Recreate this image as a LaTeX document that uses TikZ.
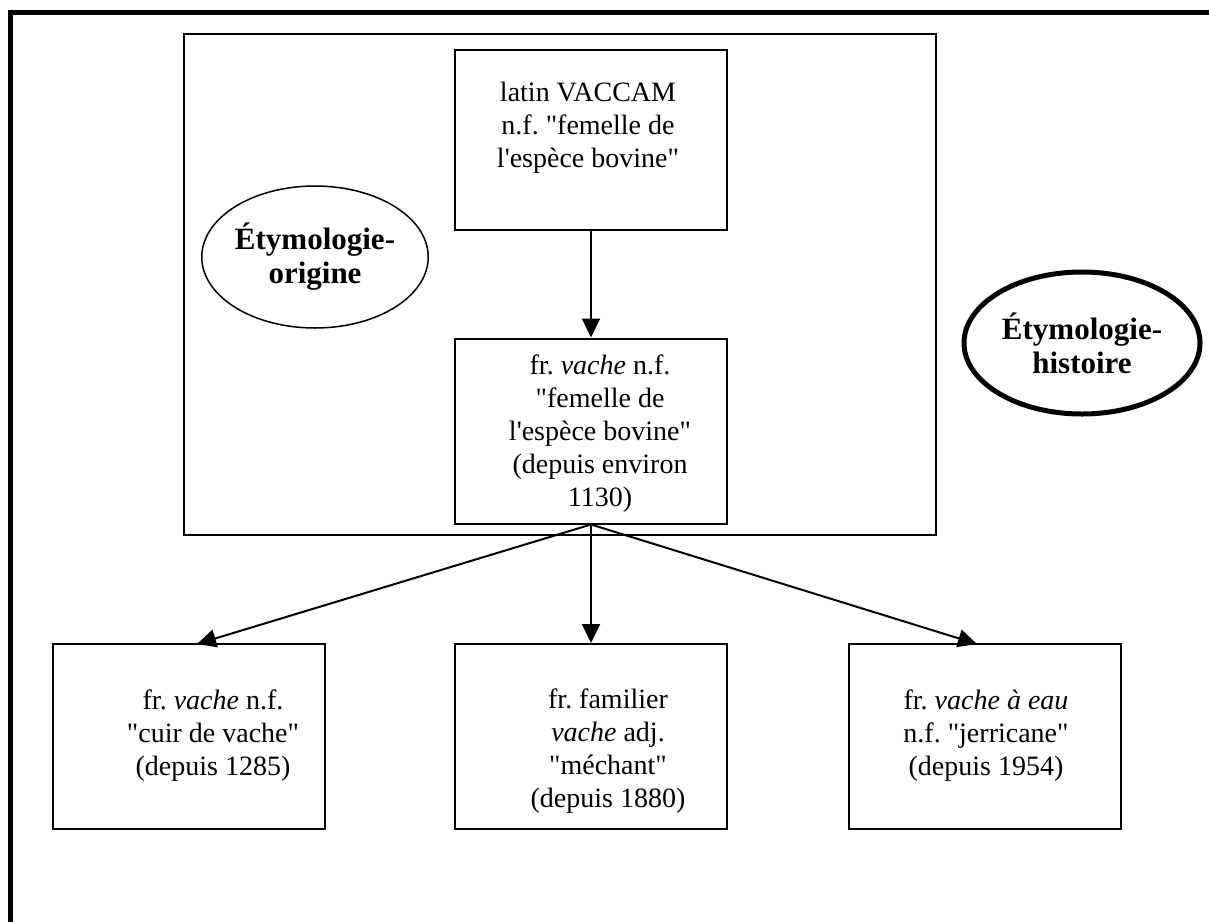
\documentclass[tikz,border=0pt]{standalone}
\usepackage{fontspec}
\setmainfont{Liberation Serif}
\usetikzlibrary{arrows.meta,shapes.geometric,positioning}
\frenchspacing

\newcommand{\boxfont}{\fontsize{28}{33}\selectfont}
\newcommand{\bullefont}{\fontsize{31}{34}\selectfont\bfseries}
\newcommand{\qq}{\textquotedbl}
\newcommand{\ap}{\textquotesingle}

\begin{document}
\begin{tikzpicture}[x=1pt, y=-1pt,
    frame/.style={line width=5pt},
    zone/.style={draw, line width=2pt},
    etape/.style={draw, line width=2pt, minimum width=272pt, minimum height=185pt},
    texte/.style={align=center, inner sep=0pt, font=\boxfont},
    bulle/.style={ellipse, draw, align=center, inner sep=0pt, font=\bullefont, minimum width=220pt, minimum height=142pt},
    arr/.style={-{Triangle[length=19pt, width=18pt]}, line width=2pt}
]
\useasboundingbox (0,0) rectangle (1209,921);

% cadre de page et zone d'origine
\draw[frame] (10,990) -- (10,12.5) -- (1280,12.5);
\draw[zone] (184,34) rectangle (936,535);

% mot latin et premier sens
\node[etape, minimum height=180pt] (latin) at (591,140) {};
\node[texte] (latintxt) at (588,128) {latin VACCAM\\n.f. \qq femelle de\\l\ap espèce bovine\qq};
\node[etape] (vache) at (591,431) {};
\node[texte] (vachetxt) at (600,434) {fr. \textit{vache} n.f.\\\qq femelle de\\l\ap espèce bovine\qq\\(depuis environ\\1130)};

% ellipses
\node[bulle, line width=1.5pt] (origine) at (315,257) {Étymologie-\\origine};
\node[bulle, line width=5pt, minimum width=236pt] (histoire) at (1082,343) {Étymologie-\\histoire};

% sens derives
\node[etape] (cuir) at (188.5,736.5) {};
\node[texte] (cuirtxt) at (213,736) {fr. \textit{vache} n.f.\\\qq cuir de vache\qq\\(depuis 1285)};
\node[etape] (mechant) at (591,736.5) {};
\node[texte] (mechanttxt) at (608,751) {fr. familier\\\textit{vache} adj.\\\qq méchant\qq\\(depuis 1880)};
\node[etape] (eau) at (985,736.5) {};
\node[texte] (eautxt) at (986,736) {fr. \textit{vache à eau}\\n.f. \qq jerricane\qq\\(depuis 1954)};

\coordinate (cuirtop) at (197,644);
\coordinate (eautop) at (977,644);

\draw[arr] (latin.south) -- (vache.north);
\draw[arr] (vache.south) -- (cuirtop);
\draw[arr] (vache.south) -- (mechant.north);
\draw[arr] (vache.south) -- (eautop);
\end{tikzpicture}
\end{document}
